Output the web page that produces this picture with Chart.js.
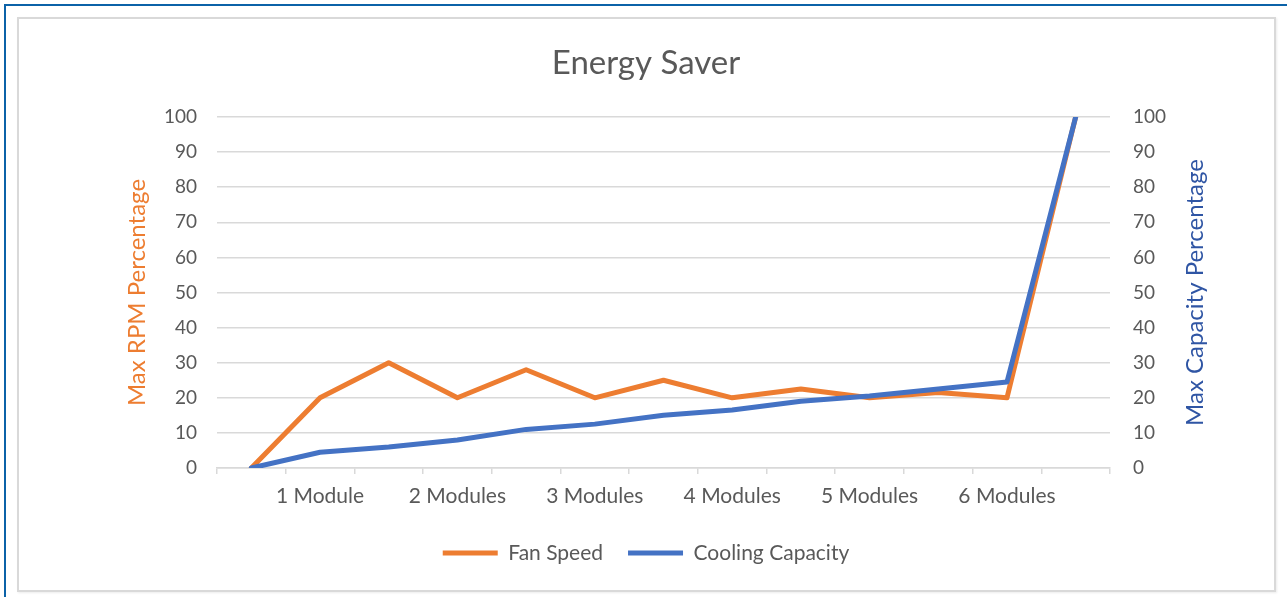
<!DOCTYPE html>
<html>
<head>
<meta charset="utf-8">
<title>Energy Saver</title>
<script src="https://cdn.jsdelivr.net/npm/chart.js@4.4.1/dist/chart.umd.min.js"></script>
<style>
  html, body { margin: 0; padding: 0; background: #fff; }
  #wrap { position: relative; width: 1287px; height: 597px; overflow: hidden; }
  #outer { position: absolute; left: 4px; top: 4px; width: 1300px; height: 620px; border-left: 2px solid #0b62a8; border-top: 2px solid #0b62a8; }
  #frame { position: absolute; left: 17px; top: 17px; width: 1255px; height: 571px; border: 2px solid #d9d9d9; box-shadow: 1px 1px 2px rgba(0,0,0,0.08); }
  #energyChart { position: absolute; left: 0; top: 0; }
</style>
</head>
<body>
<div id="wrap">
  <div id="outer"></div>
  <div id="frame"></div>
  <canvas id="energyChart" width="1287" height="597"></canvas>
</div>
<script>
// Energy Saver chart: fan speed vs cooling capacity per module count

const categories = ['', '1 Module', '', '2 Modules', '', '3 Modules', '', '4 Modules', '', '5 Modules', '', '6 Modules', ''];
const fanSpeed = [0, 20, 30, 20, 28, 20, 25, 20, 22.5, 20, 21.5, 20, 100];
const coolingCapacity = [0, 4.5, 6, 8, 11, 12.5, 15, 16.5, 19, 20.5, 22.5, 24.5, 100];
const yMin = 0;
const yMax = 100;
const yStep = 10;

const ORANGE = '#ED7D31';
const BLUE = '#4472C4';
const GRID = '#d9d9d9';

Chart.defaults.font.family = 'Lato';
Chart.defaults.color = '#595959';

// right axis title reads bottom-to-top like the left one
const rightAxisTitle = {
  id: 'rightAxisTitle',
  afterDraw(chart) {
    const s = chart.scales.y1;
    const ctx = chart.ctx;
    ctx.save();
    ctx.translate(s.left + 85, (s.top + s.bottom) / 2);
    ctx.rotate(-Math.PI / 2);
    ctx.font = '24px Lato';
    ctx.fillStyle = '#2f55a4';
    ctx.textAlign = 'center';
    ctx.textBaseline = 'middle';
    ctx.fillText('Max Capacity Percentage', 0, 0);
    ctx.restore();
  }
};

document.addEventListener('DOMContentLoaded', function() {
  const ctx = document.getElementById('energyChart').getContext('2d');
  window.energyChart = new Chart(ctx, {
    type: 'line',
    data: {
      labels: categories,
      datasets: [{
        label: 'Fan Speed',
        data: fanSpeed,
        yAxisID: 'y',
        borderColor: ORANGE,
        backgroundColor: ORANGE,
        borderWidth: 5,
        borderJoinStyle: 'round',
        borderCapStyle: 'round',
        pointRadius: 0,
        tension: 0,
        order: 1
      }, {
        label: 'Cooling Capacity',
        data: coolingCapacity,
        yAxisID: 'y1',
        borderColor: BLUE,
        backgroundColor: BLUE,
        borderWidth: 5,
        borderJoinStyle: 'round',
        borderCapStyle: 'round',
        pointRadius: 0,
        tension: 0,
        order: 0
      }]
    },
    plugins: [rightAxisTitle],
    options: {
      responsive: false,
      animation: false,
      layout: { padding: { left: 40, right: 35, top: 0, bottom: 23.5 } },
      plugins: {
        title: {
          display: true,
          text: 'Energy Saver',
          color: '#595959',
          font: { size: 33, weight: 'normal' },
          padding: { top: 44, bottom: 33.4 }
        },
        legend: {
          position: 'bottom',
          labels: {
            usePointStyle: true,
            pointStyle: 'line',
            pointStyleWidth: 55,
            padding: 25,
            color: '#595959',
            font: { size: 21 },
            sort: (a, b) => a.datasetIndex - b.datasetIndex
          }
        },
        tooltip: { enabled: false }
      },
      scales: {
        x: {
          offset: true,
          grid: { offset: true, drawOnChartArea: false, drawTicks: true, tickLength: 6, color: GRID, lineWidth: 1.5 },
          border: { display: true, color: GRID, width: 1.5 },
          ticks: { autoSkip: false, maxRotation: 0, padding: 10, font: { size: 21 }, color: '#595959' },
          afterFit(scale) { scale.height = 49.5; }
        },
        y: {
          position: 'left',
          min: yMin,
          max: yMax,
          ticks: { stepSize: yStep, padding: 20, font: { size: 19 }, color: '#595959' },
          grid: { color: GRID, lineWidth: 1.5, drawTicks: false },
          border: { display: false },
          title: {
            display: true,
            text: 'Max RPM Percentage',
            color: ORANGE,
            font: { size: 24 },
            padding: { top: 82.6, bottom: 0 }
          },
          afterFit(scale) { scale.width = 177; }
        },
        y1: {
          position: 'right',
          min: yMin,
          max: yMax,
          ticks: { stepSize: yStep, padding: 23, font: { size: 19 }, color: '#595959' },
          grid: { display: false, drawTicks: false },
          border: { display: false },
          afterFit(scale) { scale.width = 142; }
        }
      }
    }
  });
});
</script>
</body>
</html>
